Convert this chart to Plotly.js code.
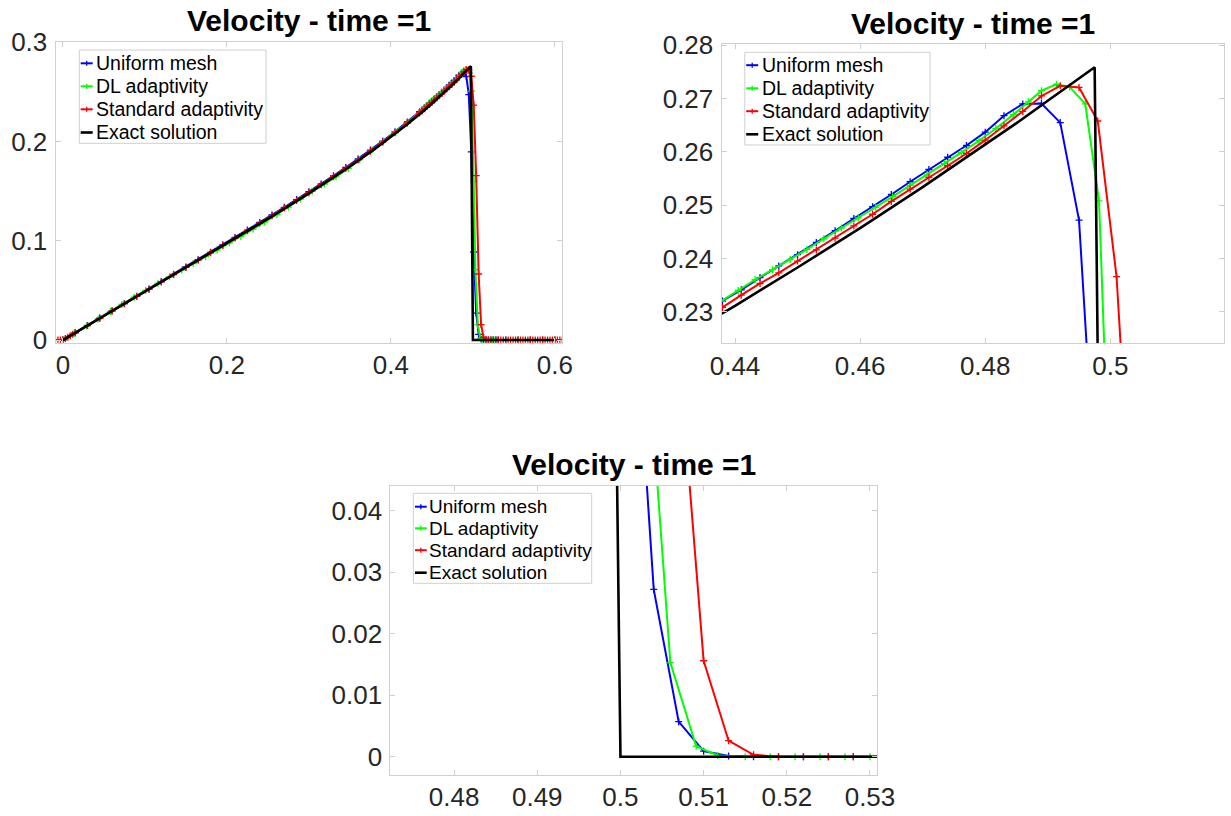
<!DOCTYPE html>
<html>
<head>
<meta charset="utf-8">
<script src="https://cdn.plot.ly/plotly-3.0.1.min.js"></script>
<style>
html,body{margin:0;padding:0;background:#ffffff;}
#chart{width:1231px;height:816px;}
</style>
</head>
<body>
<div id="chart"></div>
<script>
// ---------------- DATA ----------------
const seriesNames = ['Uniform mesh', 'DL adaptivity', 'Standard adaptivity', 'Exact solution'];
const titleText = 'Velocity - time =1';

// Uniform mesh (blue)
const uniformX = [0,0.015,0.03,0.045,0.06,0.075,0.09,0.105,0.12,0.135,0.15,0.165,0.18,0.195,0.21,0.225,0.24,0.255,0.27,0.285,0.3,0.315,0.33,0.345,0.36,0.375,0.39,0.405,0.42,0.435,
  0.438,0.441,0.444,0.447,0.45,0.453,0.456,0.459,0.462,0.465,0.468,0.471,0.474,0.477,0.48,0.483,0.486,0.489,0.492,0.495,
  0.498,0.501,0.504,0.507,0.51,0.513,0.516,0.519,0.522,0.525,0.528,0.531,0.54,0.555,0.57,0.585,0.6];
const uniformY = [0,0.0074,0.0147,0.0221,0.0294,0.0368,0.0441,0.0515,0.0589,0.0662,0.0736,0.0810,0.0884,0.0959,0.1034,0.1108,0.1184,0.1260,0.1337,0.1415,0.1494,0.1573,0.1655,0.1739,0.1825,0.1914,0.2004,0.2099,0.2198,0.2300,
  0.2320,0.2341,0.2364,0.2386,0.2407,0.2430,0.2452,0.2475,0.2497,0.2520,0.2544,0.2567,0.2590,0.2612,0.2637,0.2668,0.2690,0.2691,0.2655,0.2472,
  0.1895,0.0887,0.0272,0.0057,0.0009,0.0001,0,0,0,0,0,0,0,0,0,0,0];

// DL adaptivity (green)
const dlX = [0,0.014,0.029,0.043,0.058,0.072,0.087,0.101,0.116,0.130,0.145,0.159,0.174,0.188,0.203,0.217,0.232,0.246,0.261,0.275,0.290,0.304,0.319,0.333,0.348,0.362,0.377,0.391,0.406,0.420,
  0.4378,0.4405,0.4432,0.4460,0.4488,0.4515,0.4542,0.4570,0.4597,0.4625,0.4652,0.4680,0.4707,0.4735,0.4762,0.4790,0.4817,0.4845,0.4869,0.4890,0.4914,0.4935,0.4960,0.4982,0.5010,0.5030,0.5060,0.5091,0.5117,
  0.515,0.518,0.521,0.524,0.527,0.530,0.54,0.555,0.57,0.585,0.6];
const dlY = [0,0.0068,0.0141,0.0212,0.0287,0.0358,0.0432,0.0500,0.0572,0.0637,0.0706,0.0770,0.0840,0.0906,0.0977,0.1044,0.1118,0.1188,0.1265,0.1340,0.1421,0.1498,0.1572,0.1644,0.1729,0.1819,0.1915,0.2002,0.2096,0.2190,
  0.2320,0.2340,0.2360,0.2379,0.2398,0.2417,0.2437,0.2457,0.2476,0.2496,0.2516,0.2537,0.2557,0.2578,0.2599,0.2621,0.2644,0.2670,0.2694,0.2715,0.2727,0.2722,0.2690,0.2508,0.1600,0.0710,0.0153,0.0017,0.0002,
  0,0,0,0,0,0,0,0,0,0,0];

// Standard adaptivity (red)
const stdX = [-0.009,-0.006,-0.003,0,0.003,0.006,0.009,0.012,0.015,0.03,0.045,0.06,0.075,0.09,0.105,0.12,0.135,0.15,0.165,0.18,0.195,0.21,0.225,0.24,0.255,0.27,0.285,0.3,0.315,0.33,0.345,0.36,0.375,0.39,0.405,0.42,0.435,
  0.438,0.441,0.444,0.447,0.45,0.453,0.456,0.459,0.462,0.465,0.468,0.471,0.474,0.477,0.48,0.483,0.486,0.489,0.492,0.495,
  0.498,0.501,0.504,0.507,0.51,0.513,0.516,
  0.519,0.522,0.525,0.528,0.531,0.534,0.537,0.54,0.543,0.546,0.549,0.552,0.555,0.558,0.561,0.564,0.567,0.57,0.573,0.576,0.579,0.582,0.585,0.588,0.591,0.594,0.597,0.6,0.603,0.606,0.609];
const stdY = [0,0,0,0,0.0015,0.0029,0.0044,0.0058,0.0073,0.0146,0.0219,0.0293,0.0366,0.0439,0.0512,0.0585,0.0659,0.0732,0.0806,0.0879,0.0953,0.1028,0.1102,0.1178,0.1253,0.1330,0.1407,0.1485,0.1565,0.1646,0.1730,0.1815,0.1903,0.1994,0.2088,0.2187,0.2288,
  0.2308,0.2331,0.2353,0.2373,0.2395,0.2416,0.2438,0.2461,0.2483,0.2507,0.2530,0.2552,0.2574,0.2597,0.2622,0.2649,0.2676,0.2705,0.2724,0.2721,
  0.2658,0.2366,0.1656,0.0665,0.0156,0.0026,0.0003,
  0,0,0,0,0,0,0,0,0,0,0,0,0,0,0,0,0,0,0,0,0,0,0,0,0,0,0,0,0,0,0];

// Exact solution (black)
const exactX = [0,0.05,0.1,0.15,0.2,0.25,0.3,0.35,0.38,0.4,0.42,0.44,0.45,0.46,0.47,0.48,0.485,0.49,0.495,0.4975,0.5,0.6];
const exactY = [0,0.0243,0.0485,0.0728,0.0972,0.1221,0.1477,0.1748,0.1923,0.2045,0.2175,0.2311,0.2383,0.2457,0.2534,0.2613,0.2654,0.2696,0.2738,0.2759,0,0];

// Tick values / labels
const tlXTicks = [0,0.2,0.4,0.6];            const tlXLabels = ['0','0.2','0.4','0.6'];
const tlYTicks = [0,0.1,0.2,0.3];            const tlYLabels = ['0','0.1','0.2','0.3'];
const trXTicks = [0.44,0.46,0.48,0.5];       const trXLabels = ['0.44','0.46','0.48','0.5'];
const trYTicks = [0.23,0.24,0.25,0.26,0.27,0.28]; const trYLabels = ['0.23','0.24','0.25','0.26','0.27','0.28'];
const bXTicks = [0.48,0.49,0.5,0.51,0.52,0.53];   const bXLabels = ['0.48','0.49','0.5','0.51','0.52','0.53'];
const bYTicks = [0,0.01,0.02,0.03,0.04];          const bYLabels = ['0','0.01','0.02','0.03','0.04'];

// ---------------- STYLE / LAYOUT ----------------
const W = 1231, H = 816;
const FONT = 'Liberation Sans, Arial, Helvetica, sans-serif';
const seriesColors = ['#0000ff', '#00ff00', '#ff0000', '#000000'];
const seriesWidths = [2, 2, 2, 2.6];
const seriesMarkers = [true, true, true, false];
const seriesX = [uniformX, dlX, stdX, exactX];
const seriesY = [uniformY, dlY, stdY, exactY];
const frameColor = '#d0d0d0';

const fx = v => v / W;
const fy = v => 1 - v / H;

const panels = [
  {ax: '', box: [55.5, 41.7, 562.3, 342.7], xr: [-0.009, 0.609], yr: [-0.0027, 0.3006],
   xt: tlXTicks, xl: tlXLabels, yt: tlYTicks, yl: tlYLabels,
   leg: [79.3, 50, 266, 143.3], rows: [13.3, 36.3, 59.3, 82.5], sym: [1.4, 13.4], tx: 14.7, lf: 19.5, titleY: 20.5},
  {ax: '2', box: [721.5, 44.3, 1223.5, 343.3], xr: [0.43784, 0.5181], yr: [0.22407, 0.2802],
   xt: trXTicks, xl: trXLabels, yt: trYTicks, yl: trYLabels,
   leg: [744.8, 52.3, 930, 145], rows: [12.9, 36, 58.9, 82], sym: [1.4, 13.4], tx: 14.8, lf: 19.5, titleY: 23},
  {ax: '3', box: [390.3, 485.7, 877.3, 775], xr: [0.47233, 0.53088], yr: [-0.00298, 0.04407],
   xt: bXTicks, xl: bXLabels, yt: bYTicks, yl: bYLabels,
   leg: [413.3, 493.3, 591.7, 583.3], rows: [13.4, 35, 56.9, 79.4], sym: [1.7, 13.4], tx: 14, lf: 19, titleY: 464}
];

const traces = [];
const layout = {
  width: W, height: H,
  margin: {l: 0, r: 0, t: 0, b: 0, pad: 0},
  paper_bgcolor: '#ffffff', plot_bgcolor: '#ffffff',
  showlegend: false,
  font: {family: FONT},
  shapes: [], annotations: []
};

const axisCommon = {
  showline: true, mirror: 'ticks', linecolor: frameColor, linewidth: 1,
  ticks: 'inside', ticklen: 5, tickwidth: 1, tickcolor: frameColor,
  showgrid: false, zeroline: false, fixedrange: true,
  tickfont: {family: FONT, size: 26, color: '#262626'},
  tickmode: 'array', automargin: false
};

panels.forEach(p => {
  const xName = 'xaxis' + p.ax, yName = 'yaxis' + p.ax;
  const xRef = 'x' + p.ax, yRef = 'y' + p.ax;
  layout[xName] = Object.assign({}, axisCommon, {
    domain: [fx(p.box[0]), fx(p.box[2])], range: p.xr, anchor: yRef,
    tickvals: p.xt, ticktext: p.xl, ticklabelstandoff: -1
  });
  layout[yName] = Object.assign({}, axisCommon, {
    domain: [fy(p.box[3]), fy(p.box[1])], range: p.yr, anchor: xRef,
    tickvals: p.yt, ticktext: p.yl, ticklabelstandoff: 2
  });

  for (let s = 0; s < 4; s++) {
    traces.push({
      type: 'scatter',
      x: seriesX[s], y: seriesY[s],
      xaxis: xRef, yaxis: yRef,
      name: seriesNames[s],
      mode: seriesMarkers[s] ? 'lines+markers' : 'lines',
      line: {color: seriesColors[s], width: seriesWidths[s]},
      marker: {symbol: 'cross-thin', size: 5, color: seriesColors[s], line: {width: 1.3, color: seriesColors[s]}},
      showlegend: false, hoverinfo: 'skip'
    });
  }

  // Title
  layout.annotations.push({
    xref: 'paper', yref: 'paper',
    x: fx((p.box[0] + p.box[2]) / 2), y: fy(p.titleY),
    xanchor: 'center', yanchor: 'middle', showarrow: false,
    text: '<b>' + titleText + '</b>',
    font: {family: FONT, size: 30, color: '#000000'}
  });

  // Legend box
  const L = p.leg;
  layout.shapes.push({
    type: 'rect', xref: 'paper', yref: 'paper', layer: 'above',
    x0: fx(L[0]), x1: fx(L[2]), y0: fy(L[3]), y1: fy(L[1]),
    line: {color: '#cfcfcf', width: 1}, fillcolor: '#ffffff'
  });
  for (let s = 0; s < 4; s++) {
    const yc = L[1] + p.rows[s];
    layout.shapes.push({
      type: 'line', xref: 'paper', yref: 'paper', layer: 'above',
      x0: fx(L[0] + p.sym[0]), x1: fx(L[0] + p.sym[1]), y0: fy(yc), y1: fy(yc),
      line: {color: seriesColors[s], width: seriesWidths[s]}
    });
    if (seriesMarkers[s]) {
      const xm = L[0] + (p.sym[0] + p.sym[1]) / 2;
      layout.shapes.push({
        type: 'line', xref: 'paper', yref: 'paper', layer: 'above',
        x0: fx(xm), x1: fx(xm), y0: fy(yc - 2.5), y1: fy(yc + 2.5),
        line: {color: seriesColors[s], width: 1.3}
      });
    }
    layout.annotations.push({
      xref: 'paper', yref: 'paper', x: fx(L[0] + p.tx), y: fy(yc),
      xanchor: 'left', yanchor: 'middle', showarrow: false,
      text: seriesNames[s],
      font: {family: FONT, size: p.lf, color: '#000000'}
    });
  }
});

Plotly.newPlot('chart', traces, layout, {displayModeBar: false, staticPlot: true});
</script>
</body>
</html>
